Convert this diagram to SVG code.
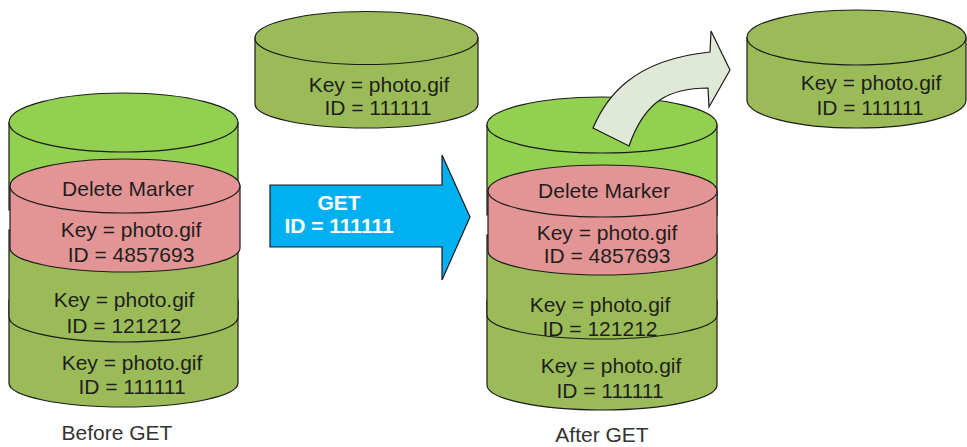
<svg xmlns="http://www.w3.org/2000/svg" width="967" height="447" viewBox="0 0 967 447">
<style>
  .s{stroke:#1a1a1a;stroke-width:1.2;}
  .bright{fill:#92d050;}
  .olive{fill:#9bbb59;}
  .pink{fill:#e39595;}
  .t{font-family:"Liberation Sans",Arial,sans-serif;font-size:21px;fill:#1e1e1e;text-anchor:middle;}
  .cap{font-family:"Liberation Sans",Arial,sans-serif;font-size:21px;fill:#333;text-anchor:middle;}
  .w{font-family:"Liberation Sans",Arial,sans-serif;font-size:21px;font-weight:bold;fill:#fff;text-anchor:middle;}
</style>
<rect width="967" height="447" fill="#fff"/>

<g id="before">
  <path class="s olive" d="M9,300 L9,383 A114.5,24 0 0 0 238,383 L238,300 Z"/>
  <path class="s olive" d="M9,230 L9,317 A114.5,25 0 0 0 238,317 L238,230 Z"/>
  <path class="s bright" d="M9,122.5 L9,210 L238,210 L238,122.5 Z"/>
  <ellipse class="s bright" cx="123.5" cy="122.5" rx="114.5" ry="29.5"/>
  <path class="s pink" d="M10,186 L10,248 A115,24 0 0 0 240,248 L240,186 Z"/>
  <ellipse class="s pink" cx="125" cy="186" rx="115" ry="27"/>
  <text class="t" x="128" y="196">Delete Marker</text>
  <text class="t" x="131" y="237">Key = photo.gif</text>
  <text class="t" x="131" y="262">ID = 4857693</text>
  <text class="t" x="124" y="307">Key = photo.gif</text>
  <text class="t" x="124" y="333">ID = 121212</text>
  <text class="t" x="132" y="370">Key = photo.gif</text>
  <text class="t" x="132" y="394">ID = 111111</text>
  <text class="cap" x="117" y="440">Before GET</text>
</g>

<g id="removed">
  <path class="s olive" d="M255,38 L255,104 A111.5,24 0 0 0 478,104 L478,38 Z"/>
  <ellipse class="s olive" cx="366.5" cy="38" rx="111.5" ry="26.5"/>
  <text class="t" x="379" y="92">Key = photo.gif</text>
  <text class="t" x="378" y="115">ID = 111111</text>
</g>

<g id="get-arrow">
  <path class="s" fill="#00b0f0" d="M270,185 L442,185 L442,155 L470,217 L442,280 L442,247 L270,247 Z"/>
  <text class="w" x="339" y="210">GET</text>
  <text class="w" x="339" y="233">ID = 111111</text>
</g>

<g id="after">
  <path class="s olive" d="M487,300 L487,385 A115,25 0 0 0 717,385 L717,300 Z"/>
  <path class="s olive" d="M487,235 L487,315 A115,24 0 0 0 717,315 L717,235 Z"/>
  <path class="s bright" d="M487,125 L487,215 L717,215 L717,125 Z"/>
  <ellipse class="s bright" cx="602" cy="125" rx="115" ry="28"/>
  <path class="s pink" d="M488,191 L488,251 A114.5,24 0 0 0 717,251 L717,191 Z"/>
  <ellipse class="s pink" cx="602.5" cy="191" rx="114.5" ry="26"/>
  <text class="t" x="604" y="198">Delete Marker</text>
  <text class="t" x="607" y="240">Key = photo.gif</text>
  <text class="t" x="607" y="263">ID = 4857693</text>
  <text class="t" x="600" y="312">Key = photo.gif</text>
  <text class="t" x="600" y="336">ID = 121212</text>
  <text class="t" x="611" y="373">Key = photo.gif</text>
  <text class="t" x="610" y="398">ID = 111111</text>
  <text class="cap" x="602" y="442">After GET</text>
</g>

<g id="connectors">
  <path class="s" fill="#e0e8d6" d="M593,128 C605,100 630,60 710,52 L711,31 L730,70 L709,107 L708,88 C670,88 645,100 629,146 Z"/>
</g>

<g id="returned">
  <path class="s olive" d="M747,37.5 L747,100 A109.5,28 0 0 0 966,100 L966,37.5 Z"/>
  <ellipse class="s olive" cx="856.5" cy="37.5" rx="109.5" ry="27.5"/>
  <text class="t" x="871" y="90">Key = photo.gif</text>
  <text class="t" x="870" y="115">ID = 111111</text>
</g>
</svg>
